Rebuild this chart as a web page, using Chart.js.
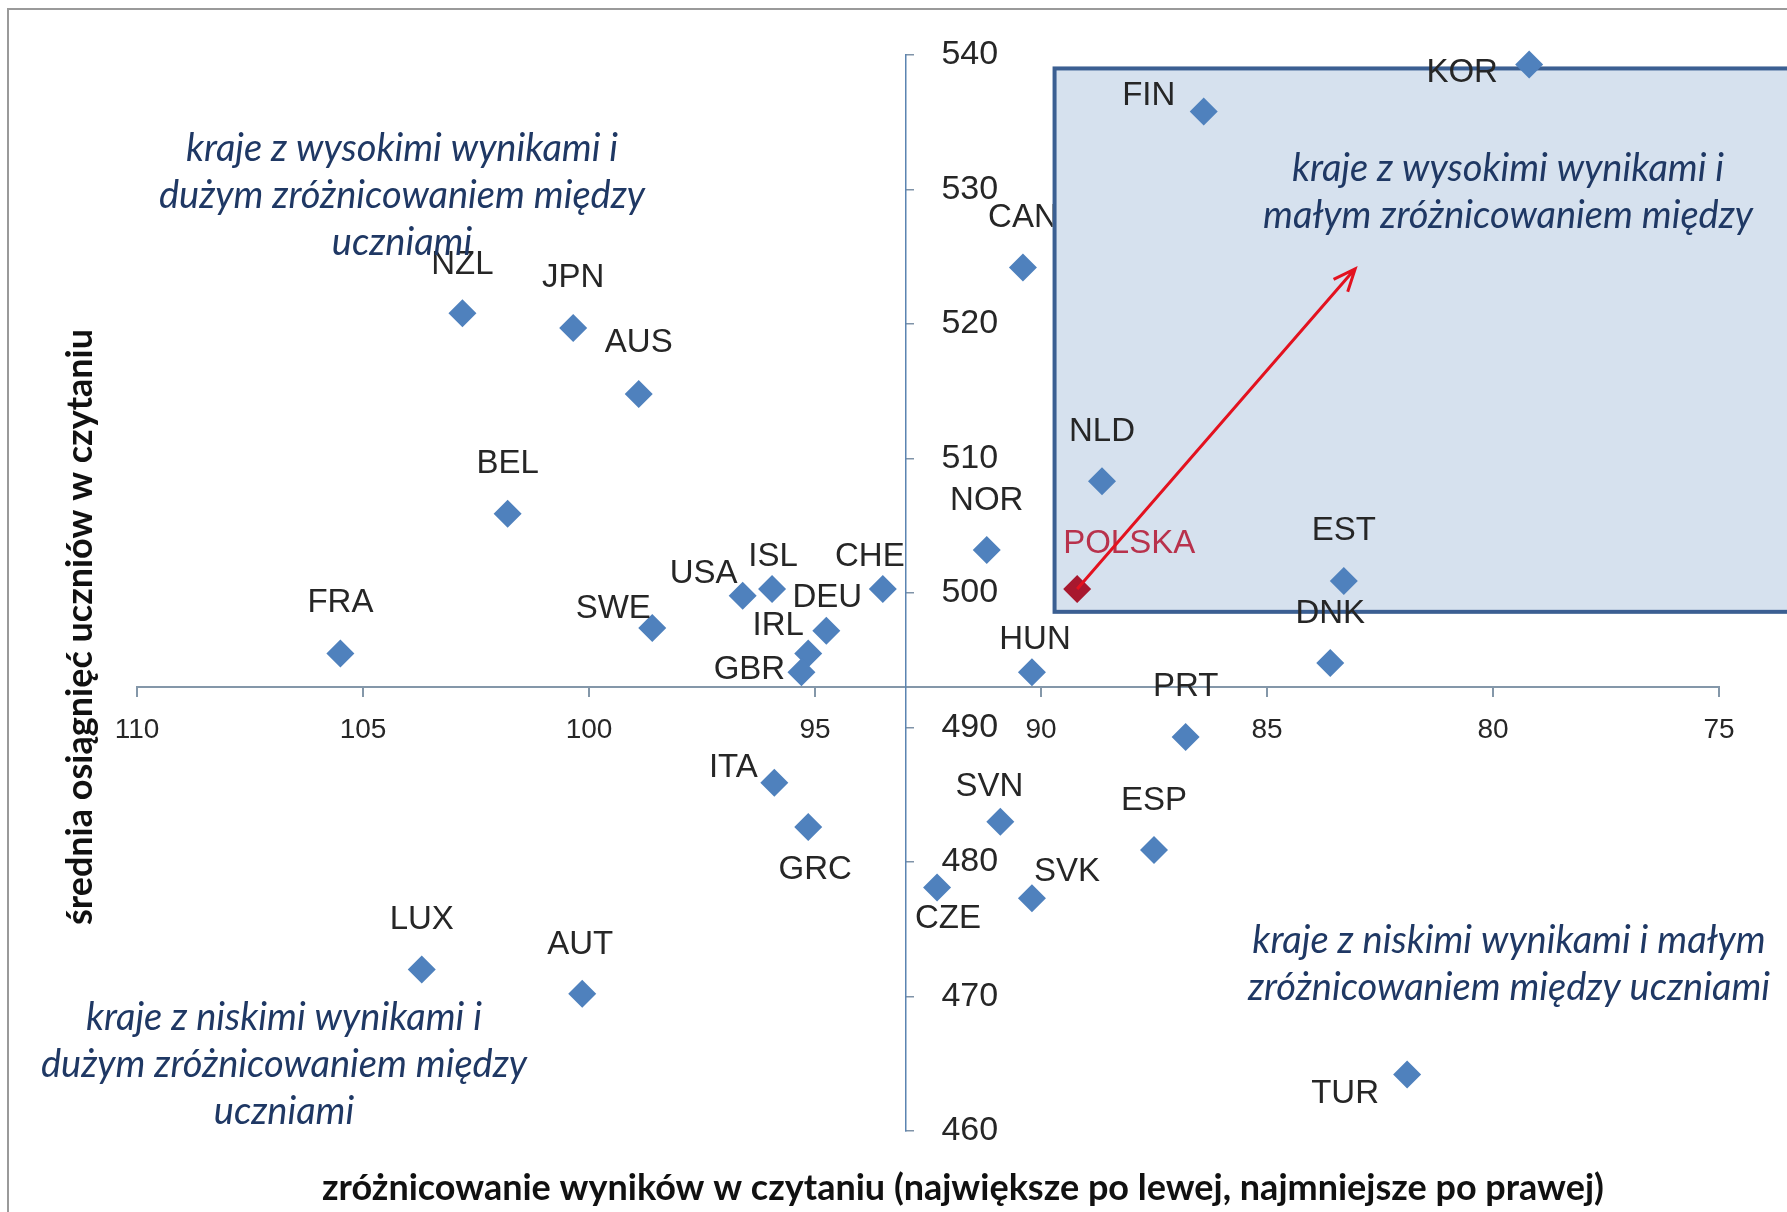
<!DOCTYPE html>
<html>
<head>
<meta charset="utf-8">
<script src="https://cdn.jsdelivr.net/npm/chart.js@4"></script>
<style>
  body { margin: 0; background: #fff; }
  canvas { display: block; }
</style>
</head>
<body>
<canvas id="pisa-chart" width="1787" height="1212"></canvas>
<script>
// values
const countries = ['KOR', 'FIN', 'CAN', 'NZL', 'JPN', 'AUS', 'BEL', 'NLD', 'NOR', 'POLSKA', 'EST', 'DNK', 'FRA', 'SWE', 'USA', 'ISL',
  'CHE', 'DEU', 'IRL', 'GBR', 'HUN', 'PRT', 'ITA', 'GRC', 'SVN', 'ESP', 'CZE', 'SVK', 'LUX', 'AUT', 'TUR']
const variation = [79.2, 86.4, 90.4, 102.8, 100.35, 98.9, 101.8, 88.65, 91.2, 89.2, 83.3, 83.6, 105.5, 98.6, 96.6, 95.95,
  93.5, 94.75, 95.15, 95.3, 90.2, 86.8, 95.9, 95.15, 90.9, 87.5, 92.3, 90.2, 103.7, 100.15, 81.9]
const reading = [539.3, 535.8, 524.2, 520.8, 519.7, 514.8, 505.9, 508.3, 503.2, 500.3, 500.9, 494.8, 495.5, 497.4, 499.8, 500.3,
  500.3, 497.2, 495.5, 494.1, 494.1, 489.3, 485.9, 482.6, 483.0, 480.9, 478.1, 477.3, 472.0, 470.2, 464.2]
const xTicks = [110, 105, 100, 95, 90, 85, 80, 75]
const yTicks = [540, 530, 520, 510, 500, 490, 480, 470, 460]

// where each country name sits relative to its marker (px)
const labelOffsets = [[-67, 8], [-55, -16], [0, -50], [0, -48], [0, -50], [0, -51], [0, -50], [0, -49], [0, -49], [52, -45], [0, -50], [0, -49],
  [0, -51], [-39, -19], [-39, -22], [1, -32], [-13, -32], [1, -33], [-30, -28], [-52, -2], [3, -32], [0, -50], [-41, -15], [7, 43],
  [-11, -35], [0, -49], [11, 31], [35, -26], [0, -50], [-2, -49], [-62, 19]]

const quadrantNotes = [
  { lines: ['kraje z wysokimi wynikami i', 'dużym zróżnicowaniem między', 'uczniami'], x: 402, y: 149 },
  { lines: ['kraje z wysokimi wynikami i', 'małym zróżnicowaniem między'], x: 1508, y: 169 },
  { lines: ['kraje z niskimi wynikami i małym', 'zróżnicowaniem między uczniami'], x: 1509, y: 941 },
  { lines: ['kraje z niskimi wynikami i', 'dużym zróżnicowaniem między', 'uczniami'], x: 284, y: 1018 }
]

const blue = '#4f81bd'
const polandRed = '#a8182e'

const boxBounds = chart => {
  const x = chart.scales.x
  const y = chart.scales.y
  const left = x.getPixelForValue(89.7)
  const top = y.getPixelForValue(539)
  const bottom = y.getPixelForValue(498.6)
  return { left, top, width: chart.width - left + 10, height: bottom - top }
}

const decorations = {
  id: 'decorations',
  beforeDraw: chart => {
    const ctx = chart.ctx
    ctx.save()
    ctx.fillStyle = '#fff'
    ctx.fillRect(0, 0, chart.width, chart.height)
    ctx.strokeStyle = '#9a9a9a'
    ctx.lineWidth = 2
    ctx.beginPath()
    ctx.moveTo(8, chart.height)
    ctx.lineTo(8, 9)
    ctx.lineTo(chart.width, 9)
    ctx.stroke()
    ctx.restore()
  },
  beforeDatasetsDraw: chart => {
    // highlighted region: high results, small variation
    const ctx = chart.ctx
    const b = boxBounds(chart)
    ctx.save()
    ctx.fillStyle = '#d6e1ee'
    ctx.fillRect(b.left, b.top, b.width, b.height)
    ctx.strokeStyle = '#3b5f92'
    ctx.lineWidth = 4
    ctx.strokeRect(b.left, b.top, b.width, b.height)

    // y tick labels sit right of the axis
    const y = chart.scales.y
    ctx.fillStyle = '#262626'
    ctx.font = '34px "Liberation Sans"'
    ctx.textAlign = 'left'
    ctx.textBaseline = 'middle'
    const axisX = chart.scales.x.getPixelForValue(93)
    yTicks.forEach(v => ctx.fillText(String(v), axisX + 36, y.getPixelForValue(v)))
    ctx.restore()
  },
  afterDatasetsDraw: chart => {
    const ctx = chart.ctx
    const meta = chart.getDatasetMeta(0)
    const b = boxBounds(chart)
    ctx.save()
    ctx.font = '33px "Liberation Sans"'
    ctx.textAlign = 'center'
    ctx.textBaseline = 'middle'
    meta.data.forEach((pt, i) => {
      const lx = pt.x + labelOffsets[i][0]
      const ly = pt.y + labelOffsets[i][1]
      ctx.save()
      // names left of the box are hidden where they run under it
      if (lx < b.left && ly > b.top && ly < b.top + b.height) {
        ctx.beginPath()
        ctx.rect(0, 0, b.left - 2, chart.height)
        ctx.clip()
      }
      ctx.fillStyle = countries[i] === 'POLSKA' ? '#b8324c' : '#262626'
      ctx.fillText(countries[i], lx, ly)
      ctx.restore()
    })

    // arrow from Poland into the box
    const p = meta.data[countries.indexOf('POLSKA')]
    const ex = chart.scales.x.getPixelForValue(83.05)
    const ey = chart.scales.y.getPixelForValue(524.1)
    const ang = Math.atan2(ey - p.y, ex - p.x)
    ctx.strokeStyle = '#e3121f'
    ctx.lineWidth = 3
    ctx.beginPath()
    ctx.moveTo(p.x, p.y)
    ctx.lineTo(ex, ey)
    ctx.moveTo(ex - 24 * Math.cos(ang - 0.4), ey - 24 * Math.sin(ang - 0.4))
    ctx.lineTo(ex, ey)
    ctx.lineTo(ex - 24 * Math.cos(ang + 0.4), ey - 24 * Math.sin(ang + 0.4))
    ctx.stroke()

    // quadrant notes
    ctx.fillStyle = '#1f3864'
    ctx.font = 'italic 38px Lato'
    quadrantNotes.forEach(n => {
      n.lines.forEach((line, k) => ctx.fillText(line, n.x, n.y + k * 47))
    })

    // axis titles
    ctx.fillStyle = '#111'
    ctx.font = 'bold 36px Lato'
    ctx.fillText('zróżnicowanie wyników w czytaniu (największe po lewej, najmniejsze po prawej)', 963, 1188)
    ctx.translate(80, 627)
    ctx.rotate(-Math.PI / 2)
    ctx.fillText('średnia osiągnięć uczniów w czytaniu', 0, 0)
    ctx.restore()
  }
}

const ctx = document.getElementById('pisa-chart').getContext('2d')

const pisaChart = new Chart(ctx, {
  type: 'scatter',
  data: {
    datasets: [{
      data: countries.map((c, i) => ({ x: variation[i], y: reading[i] })),
      pointStyle: 'rectRot',
      pointRadius: 14,
      pointHoverRadius: 14,
      borderWidth: 0,
      backgroundColor: c => countries[c.dataIndex] === 'POLSKA' ? polandRed : blue
    }]
  },
  options: {
    responsive: false,
    animation: false,
    clip: false,
    layout: {
      padding: { left: 137, right: 68, top: 55, bottom: 81 }
    },
    plugins: {
      legend: { display: false },
      tooltip: { enabled: false }
    },
    scales: {
      x: {
        type: 'linear',
        reverse: true,
        min: 75,
        max: 110,
        position: { y: 493 },
        afterBuildTicks: s => { s.ticks = xTicks.map(v => ({ value: v })) },
        ticks: {
          padding: 17,
          color: '#262626',
          font: { family: 'Liberation Sans', size: 28 }
        },
        grid: { display: true, drawOnChartArea: false, drawTicks: true, tickLength: 9, color: '#8497a9', lineWidth: 2 },
        border: { display: true, color: '#8497a9', width: 2 }
      },
      y: {
        type: 'linear',
        min: 460,
        max: 540,
        position: { x: 93 },
        afterBuildTicks: s => { s.ticks = yTicks.map(v => ({ value: v })) },
        ticks: { display: false },
        grid: { display: true, drawOnChartArea: false, drawTicks: true, tickLength: -9, color: '#7f93a8', lineWidth: 1.5 },
        border: { display: true, color: '#5b84b1', width: 1.5 }
      }
    }
  },
  plugins: [decorations]
})
</script>
</body>
</html>
